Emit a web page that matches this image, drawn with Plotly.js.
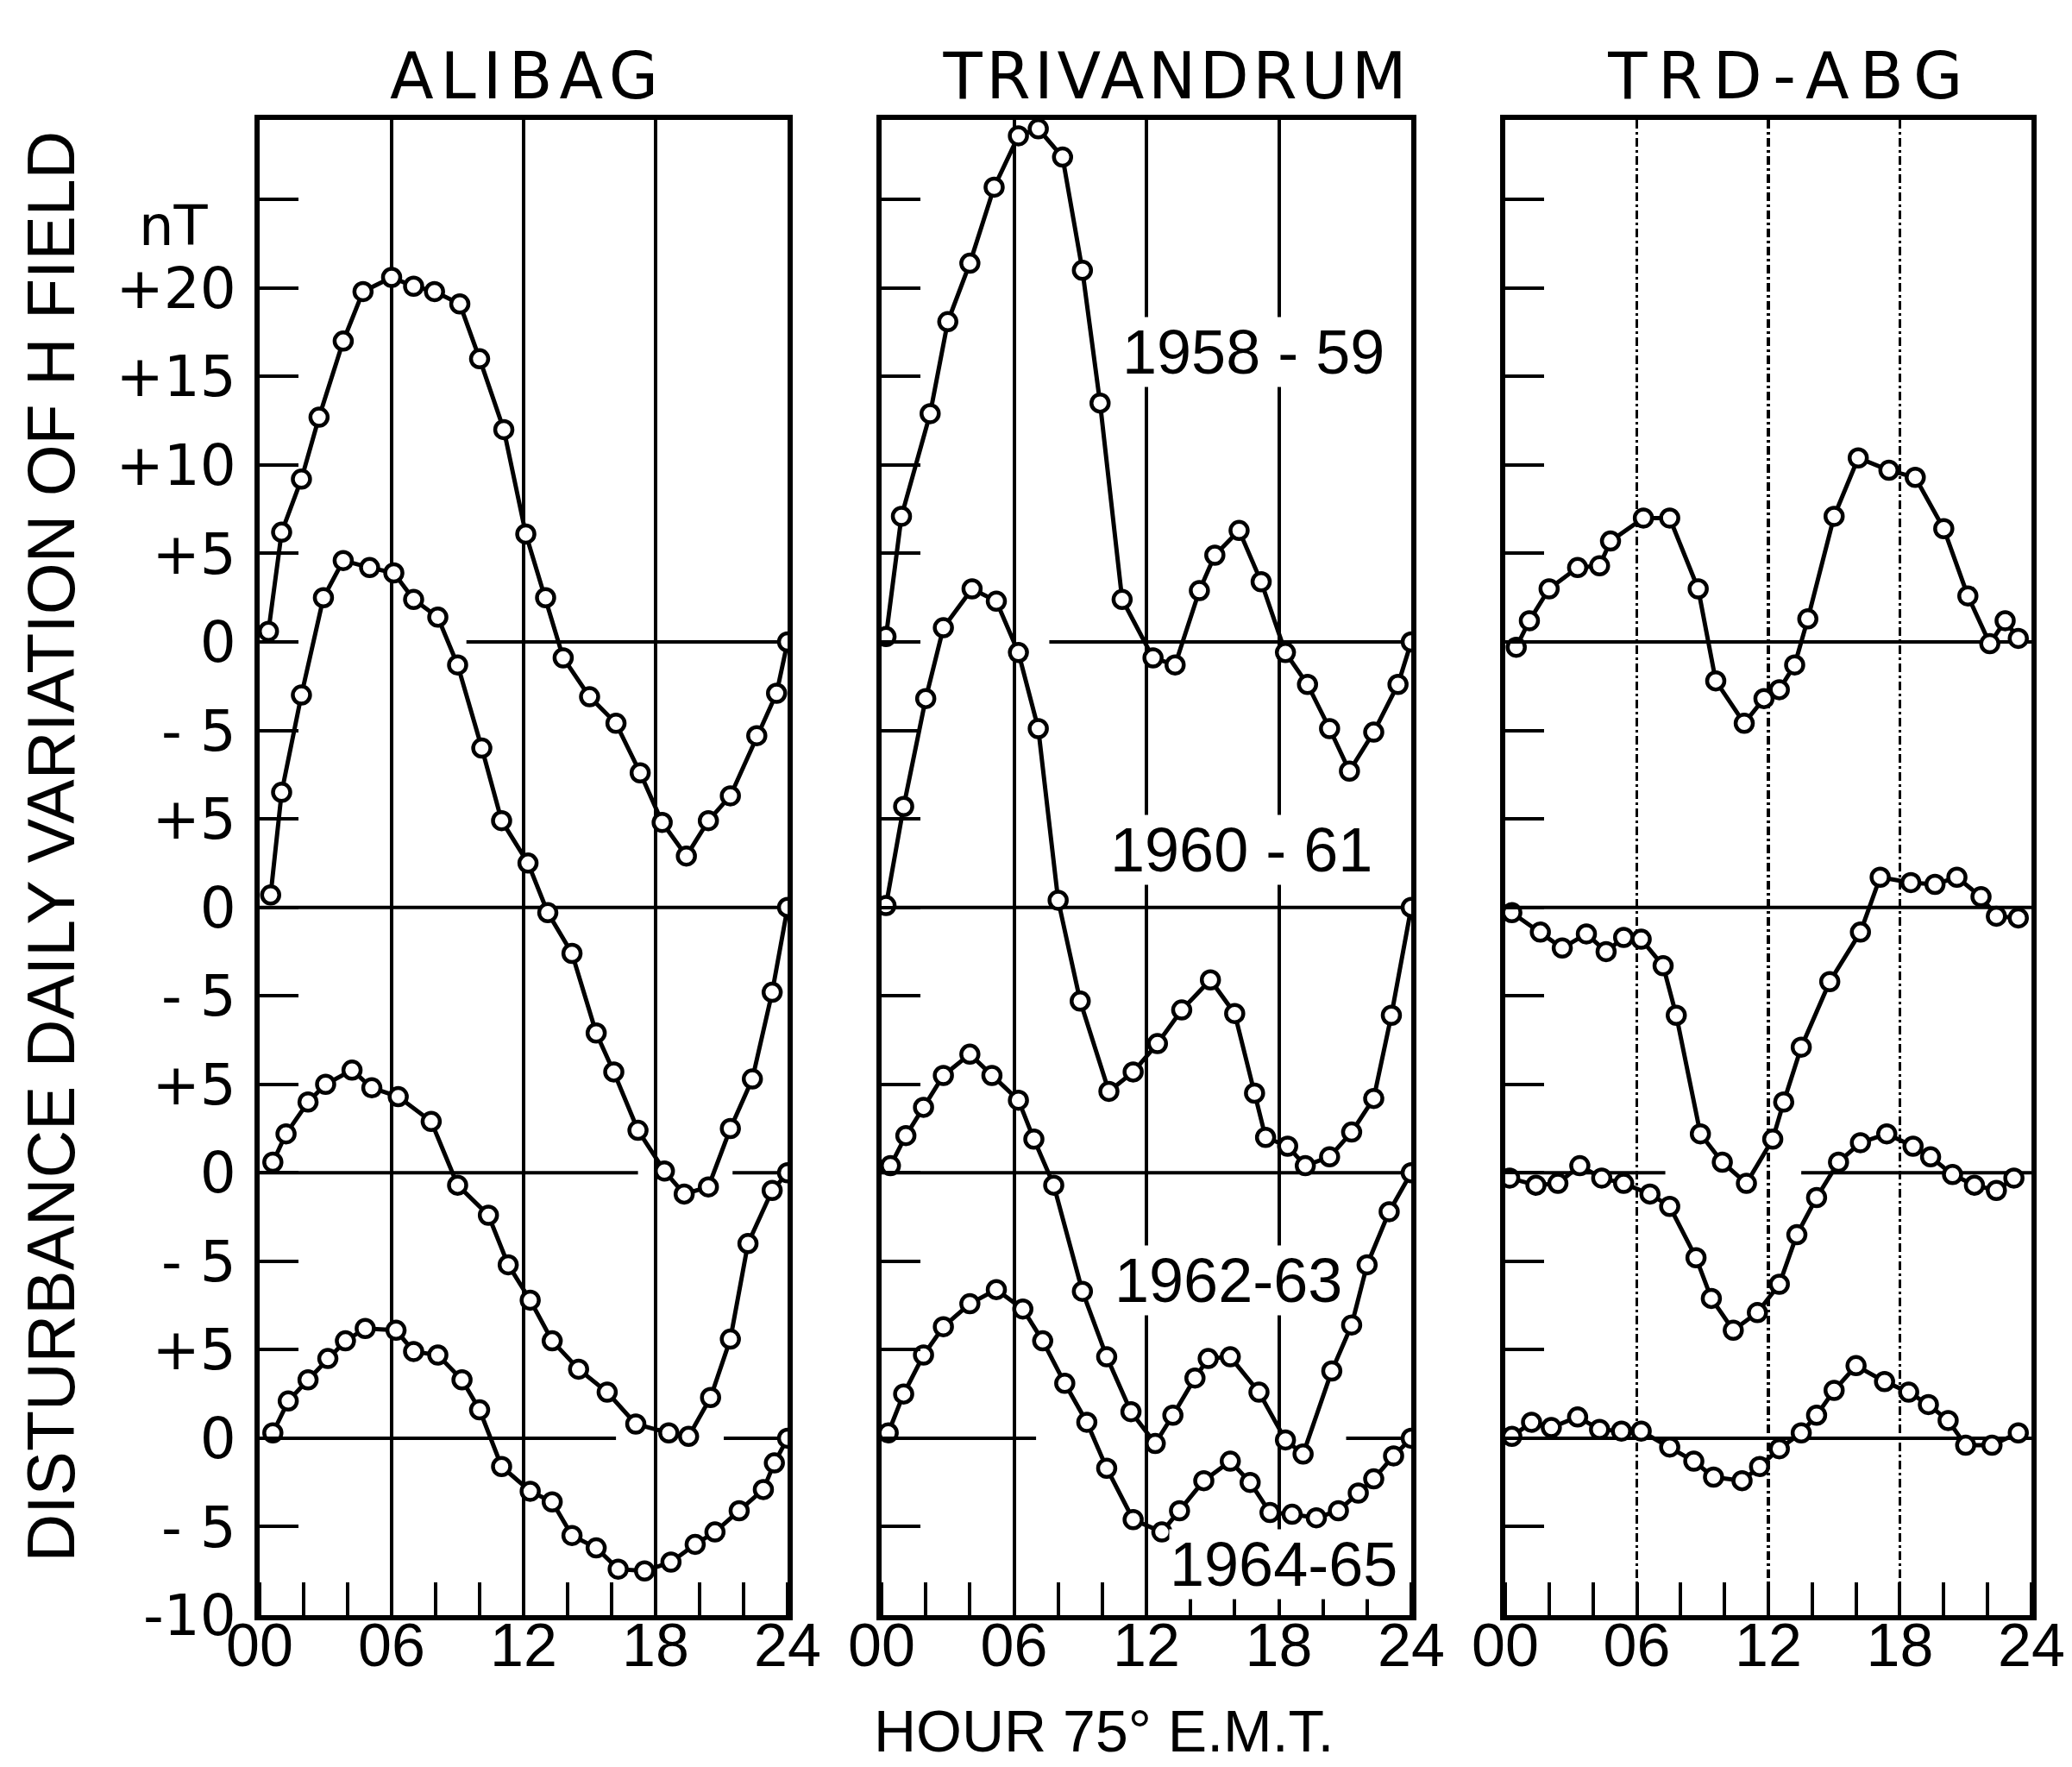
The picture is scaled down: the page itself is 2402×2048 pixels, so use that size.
<!DOCTYPE html>
<html>
<head>
<meta charset="utf-8">
<script src="https://cdn.plot.ly/plotly-3.0.1.min.js"></script>
<style>
html,body{margin:0;padding:0;background:#ffffff;}
#chart{width:2402px;height:2048px;}
/* wide lettering of the three panel titles, as in the original drawing */
g.annotation[data-index="0"] text{letter-spacing:8px;}
g.annotation[data-index="1"] text{letter-spacing:4.5px;}
g.annotation[data-index="2"] text{letter-spacing:12.5px;}
</style>
</head>
<body>
<div id="chart"></div>
<script>
// ---------------- DATA ----------------
// Hours (75° E.M.T.) and disturbance daily variation of H (nT) for each curve.
const STATIONS = ['ALIBAG', 'TRIVANDRUM', 'TRD-ABG'];
const YEARS = ['1958-59', '1960-61', '1962-63', '1964-65'];
const YEAR_LABELS = ['1958 - 59', '1960 - 61', '1962-63', '1964-65'];
// vertical offset (nT) of each year's zero line on the stacked scale
const YEAR_OFFSETS = [45, 30, 15, 0];

// ALIBAG
const ABG_1958_H = [0.4,1.0,1.9,2.7,3.8,4.7,6.0,7.0,7.95,9.1,10.0,11.1,12.1,13.0,13.8,15.0,16.2,17.3,18.3,19.4,20.4,21.4,22.6,23.5,24];
const ABG_1958_V = [0.6,6.2,9.2,12.7,17.0,19.8,20.6,20.1,19.8,19.1,16.0,12.0,6.1,2.5,-0.9,-3.1,-4.6,-7.4,-10.2,-12.1,-10.1,-8.7,-5.3,-2.9,0];
const ABG_1960_H = [0.5,1.0,1.9,2.9,3.8,5.0,6.1,7.0,8.1,9.0,10.1,11.0,12.2,13.1,14.2,15.3,16.1,17.2,18.4,19.3,20.4,21.4,22.4,23.3,24];
const ABG_1960_V = [0.7,6.5,12.0,17.5,19.6,19.2,18.9,17.4,16.4,13.7,9.0,4.9,2.5,-0.3,-2.6,-7.1,-9.3,-12.6,-14.9,-16.2,-15.8,-12.5,-9.7,-4.8,0];
const ABG_1962_H = [0.6,1.2,2.2,3.0,4.2,5.1,6.3,7.8,9.0,10.4,11.3,12.3,13.3,14.5,15.8,17.1,18.6,19.5,20.5,21.4,22.2,23.3,24];
const ABG_1962_V = [0.6,2.2,4.0,5.0,5.8,4.8,4.3,2.9,-0.7,-2.4,-5.2,-7.2,-9.5,-11.1,-12.4,-14.2,-14.7,-14.9,-12.7,-9.4,-4.0,-1.0,0];
const ABG_1964_H = [0.6,1.3,2.2,3.1,3.9,4.8,6.2,7.0,8.1,9.2,10.0,11.0,12.3,13.3,14.2,15.3,16.3,17.5,18.7,19.8,20.7,21.8,22.9,23.4,24];
const ABG_1964_V = [0.3,2.1,3.3,4.5,5.5,6.2,6.1,4.9,4.7,3.3,1.6,-1.6,-3.0,-3.6,-5.5,-6.2,-7.4,-7.5,-7.0,-6.0,-5.3,-4.1,-2.9,-1.4,0];

// TRIVANDRUM
const TRD_1958_H = [0.2,0.9,2.2,3.0,4.0,5.1,6.2,7.1,8.2,9.1,9.9,10.9,12.3,13.3,14.4,15.1,16.2,17.2,18.3,19.3,20.3,21.2,22.3,23.4,24];
const TRD_1958_V = [0.3,7.1,12.9,18.1,21.4,25.7,28.6,29.0,27.4,21.0,13.5,2.4,-0.9,-1.3,2.9,4.9,6.3,3.4,-0.6,-2.4,-4.9,-7.3,-5.1,-2.4,0];
const TRD_1960_H = [0.2,1.0,2.0,2.8,4.1,5.2,6.2,7.1,8.0,9.0,10.3,11.4,12.5,13.6,14.9,16.0,16.9,17.4,18.4,19.2,20.3,21.3,22.3,23.1,24];
const TRD_1960_V = [0.1,5.7,11.8,15.8,18.0,17.3,14.4,10.1,0.4,-5.3,-10.4,-9.3,-7.7,-5.8,-4.1,-6.0,-10.5,-13.0,-13.5,-14.6,-14.1,-12.7,-10.8,-6.1,0];
const TRD_1962_H = [0.4,1.1,1.9,2.8,4.0,5.0,6.2,6.9,7.8,9.1,10.2,11.3,12.4,13.2,14.2,14.8,15.8,17.1,18.3,19.1,20.4,21.3,22.0,23.0,24];
const TRD_1962_V = [0.4,2.1,3.7,5.5,6.7,5.5,4.1,1.9,-0.7,-6.7,-10.4,-13.5,-15.3,-13.7,-11.6,-10.5,-10.4,-12.4,-15.1,-15.9,-11.2,-8.6,-5.2,-2.2,0];
const TRD_1964_H = [0.3,1.0,1.9,2.8,4.0,5.2,6.4,7.3,8.3,9.3,10.2,11.4,12.7,13.5,14.6,15.8,16.7,17.6,18.6,19.7,20.7,21.6,22.3,23.2,24];
const TRD_1964_V = [0.3,2.5,4.7,6.3,7.6,8.4,7.3,5.5,3.1,0.9,-1.7,-4.6,-5.3,-4.1,-2.4,-1.3,-2.5,-4.2,-4.3,-4.5,-4.1,-3.1,-2.3,-1.0,0];

// TRD-ABG (difference)
const DIF_1958_H = [0.5,1.1,2.0,3.3,4.3,4.8,6.3,7.5,8.8,9.6,10.9,11.8,12.5,13.2,13.8,15.0,16.1,17.5,18.7,20.0,21.1,22.1,22.8,23.4];
const DIF_1958_V = [-0.3,1.2,3.0,4.2,4.3,5.7,7.0,7.0,3.0,-2.2,-4.6,-3.2,-2.7,-1.3,1.3,7.1,10.4,9.7,9.3,6.4,2.6,-0.1,1.2,0.2];
const DIF_1960_H = [0.3,1.6,2.6,3.7,4.6,5.4,6.2,7.2,7.8,8.9,9.9,11.0,12.2,12.7,13.5,14.8,16.2,17.1,18.5,19.6,20.6,21.7,22.4,23.4];
const DIF_1960_V = [-0.3,-1.4,-2.3,-1.5,-2.5,-1.7,-1.8,-3.3,-6.1,-12.8,-14.4,-15.6,-13.1,-11.0,-7.9,-4.2,-1.4,1.7,1.4,1.3,1.7,0.6,-0.5,-0.6];
const DIF_1962_H = [0.2,1.4,2.4,3.4,4.4,5.4,6.6,7.5,8.7,9.4,10.4,11.5,12.5,13.3,14.2,15.2,16.2,17.4,18.6,19.4,20.4,21.4,22.4,23.2];
const DIF_1962_V = [-0.3,-0.7,-0.6,0.4,-0.3,-0.6,-1.2,-1.9,-4.8,-7.1,-8.9,-7.9,-6.3,-3.5,-1.4,0.6,1.7,2.2,1.5,0.9,-0.1,-0.7,-1.0,-0.3];
const DIF_1964_H = [0.3,1.2,2.1,3.3,4.3,5.3,6.2,7.5,8.6,9.5,10.8,11.6,12.5,13.5,14.2,15.0,16.0,17.3,18.4,19.3,20.2,21.0,22.2,23.4];
const DIF_1964_V = [0.1,0.9,0.6,1.2,0.5,0.4,0.4,-0.5,-1.3,-2.2,-2.4,-1.6,-0.6,0.3,1.3,2.7,4.1,3.2,2.6,1.9,1.0,-0.4,-0.4,0.3];

// Zero-line extents (hours) as drawn in each panel, per year
const ABG_ZERO_SEGMENTS = [[[9.4,24]], [[0,24]], [[0,17.2],[21.5,24]], [[0,16.2],[21.1,24]]];
const TRD_ZERO_SEGMENTS = [[[7.6,24]], [[0,24]], [[0,24]], [[0,7.0],[21.05,24]]];
const DIF_ZERO_SEGMENTS = [[[0,24]], [[0,24]], [[0,7.3],[13.5,24]], [[0,24]]];

// Axis ticks
const X_TICK_VALS = [0, 6, 12, 18, 24];
const X_TICK_TEXT = ['00', '06', '12', '18', '24'];
const Y_TICK_VALS = [-10, -5, 0, 5, 10, 15, 20, 25, 30, 35, 40, 45, 50, 55, 60, 65, 70];
const Y_TICK_TEXT = ['-10', '- 5', '0', '+5', '- 5', '0', '+5', '- 5', '0', '+5', '- 5', '0', '+5', '+10', '+15', '+20', ''];
const Y_UNIT = 'nT';
const Y_TITLE = 'DISTURBANCE DAILY VARIATION OF H FIELD';
const X_TITLE = 'HOUR 75° E.M.T.';

// ---------------- BUILD ----------------
const FONT = 'Liberation Sans, Arial, sans-serif';
const FONT_WIDE = 'DejaVu Sans, Verdana, sans-serif';
const panels = [
  {name: STATIONS[0], xa: 'x',  ya: 'y',  curves: [[ABG_1958_H, ABG_1958_V], [ABG_1960_H, ABG_1960_V], [ABG_1962_H, ABG_1962_V], [ABG_1964_H, ABG_1964_V]], zero: ABG_ZERO_SEGMENTS},
  {name: STATIONS[1], xa: 'x2', ya: 'y2', curves: [[TRD_1958_H, TRD_1958_V], [TRD_1960_H, TRD_1960_V], [TRD_1962_H, TRD_1962_V], [TRD_1964_H, TRD_1964_V]], zero: TRD_ZERO_SEGMENTS},
  {name: STATIONS[2], xa: 'x3', ya: 'y3', curves: [[DIF_1958_H, DIF_1958_V], [DIF_1960_H, DIF_1960_V], [DIF_1962_H, DIF_1962_V], [DIF_1964_H, DIF_1964_V]], zero: DIF_ZERO_SEGMENTS}
];

const traces = [];
// zero lines first (underneath)
panels.forEach(p => {
  p.zero.forEach((segs, yi) => {
    segs.forEach(seg => {
      traces.push({
        x: seg, y: seg.map(() => YEAR_OFFSETS[yi]),
        xaxis: p.xa, yaxis: p.ya, mode: 'lines',
        line: {color: '#000', width: 4}, hoverinfo: 'skip', showlegend: false
      });
    });
  });
});
panels.forEach(p => {
  p.curves.forEach((c, yi) => {
    traces.push({
      name: p.name + ' ' + YEARS[yi],
      x: c[0], y: c[1].map(v => v + YEAR_OFFSETS[yi]),
      customdata: c[1],
      hovertemplate: '%{x} h: %{customdata} nT<extra>' + p.name + ' ' + YEARS[yi] + '</extra>',
      xaxis: p.xa, yaxis: p.ya, mode: 'lines+markers',
      line: {color: '#000', width: 5},
      marker: {symbol: 'circle', size: 20, color: '#ffffff', line: {color: '#000', width: 4.5}},
      showlegend: false
    });
  });
});

const Y_DOMAIN = [0.08594, 0.93213];
const X_DOMAINS = [[0.12531, 0.38010], [0.42548, 0.68110], [0.72648, 0.98043]];

function xAxis(i) {
  return {
    domain: X_DOMAINS[i], range: [0, 24], anchor: ['y', 'y2', 'y3'][i],
    tickmode: 'array', tickvals: X_TICK_VALS, ticktext: X_TICK_TEXT,
    ticks: '', showgrid: true, gridcolor: '#000', gridwidth: i === 2 ? 3.5 : 4,
    griddash: i === 2 ? 'dashdot' : 'solid',
    showline: true, linecolor: '#000', linewidth: 6, mirror: true, zeroline: false,
    minor: {dtick: 2, tick0: 0, ticks: 'inside', ticklen: 38, tickwidth: 4, tickcolor: '#000', showgrid: false},
    tickfont: {family: FONT, size: 70, color: '#000'}, ticklabelstandoff: -31,
    fixedrange: true
  };
}
function yAxis(i) {
  return {
    domain: Y_DOMAIN, range: [-10, 74.5], anchor: ['x', 'x2', 'x3'][i],
    tickmode: 'array', tickvals: Y_TICK_VALS, ticktext: Y_TICK_TEXT,
    ticks: 'inside', ticklen: 45, tickwidth: 4, tickcolor: '#000',
    showticklabels: i === 0, tickfont: {family: FONT_WIDE, size: 66, color: '#000'}, ticklabelstandoff: 8,
    showgrid: false, zeroline: false, showline: true, linecolor: '#000', linewidth: 6, mirror: true,
    fixedrange: true
  };
}

const annotations = [];
const TITLE_X = [0.2544, 0.5679, 0.8639];
STATIONS.forEach((s, i) => annotations.push({
  text: s, xref: 'paper', yref: 'paper', x: TITLE_X[i], y: 0.957,
  xanchor: 'center', yanchor: 'middle', showarrow: false,
  font: {family: FONT_WIDE, size: 74, color: '#000'}
}));
const LABEL_POS = [[16.85, 61.4], [16.3, 33.25], [15.7, 8.9], [18.2, -7.1]];
YEAR_LABELS.forEach((t, i) => annotations.push({
  text: t, xref: 'x2', yref: 'y2', x: LABEL_POS[i][0], y: LABEL_POS[i][1],
  xanchor: 'center', yanchor: 'middle', showarrow: false,
  bgcolor: '#ffffff', borderpad: 0,
  font: {family: FONT, size: 72, color: '#000'}
}));
annotations.push({text: Y_UNIT, xref: 'paper', yref: 'y', x: 0.0837, y: 68.5,
  xanchor: 'center', yanchor: 'middle', showarrow: false,
  font: {family: FONT_WIDE, size: 64, color: '#000'}});
annotations.push({text: Y_TITLE, xref: 'paper', yref: 'paper', x: 0.0245, y: 0.5212, textangle: -90,
  xanchor: 'center', yanchor: 'middle', showarrow: false,
  font: {family: FONT, size: 77, color: '#000'}});
annotations.push({text: X_TITLE, xref: 'paper', yref: 'paper', x: 0.5329, y: 0.0205,
  xanchor: 'center', yanchor: 'middle', showarrow: false,
  font: {family: FONT, size: 68, color: '#000'}});

const layout = {
  width: 2402, height: 2048,
  margin: {l: 0, r: 0, t: 0, b: 0},
  paper_bgcolor: '#ffffff', plot_bgcolor: '#ffffff',
  showlegend: false,
  font: {family: FONT, color: '#000'},
  xaxis: xAxis(0), xaxis2: xAxis(1), xaxis3: xAxis(2),
  yaxis: yAxis(0), yaxis2: yAxis(1), yaxis3: yAxis(2),
  annotations: annotations
};

Plotly.newPlot('chart', traces, layout, {displayModeBar: false, staticPlot: true});
</script>
</body>
</html>
